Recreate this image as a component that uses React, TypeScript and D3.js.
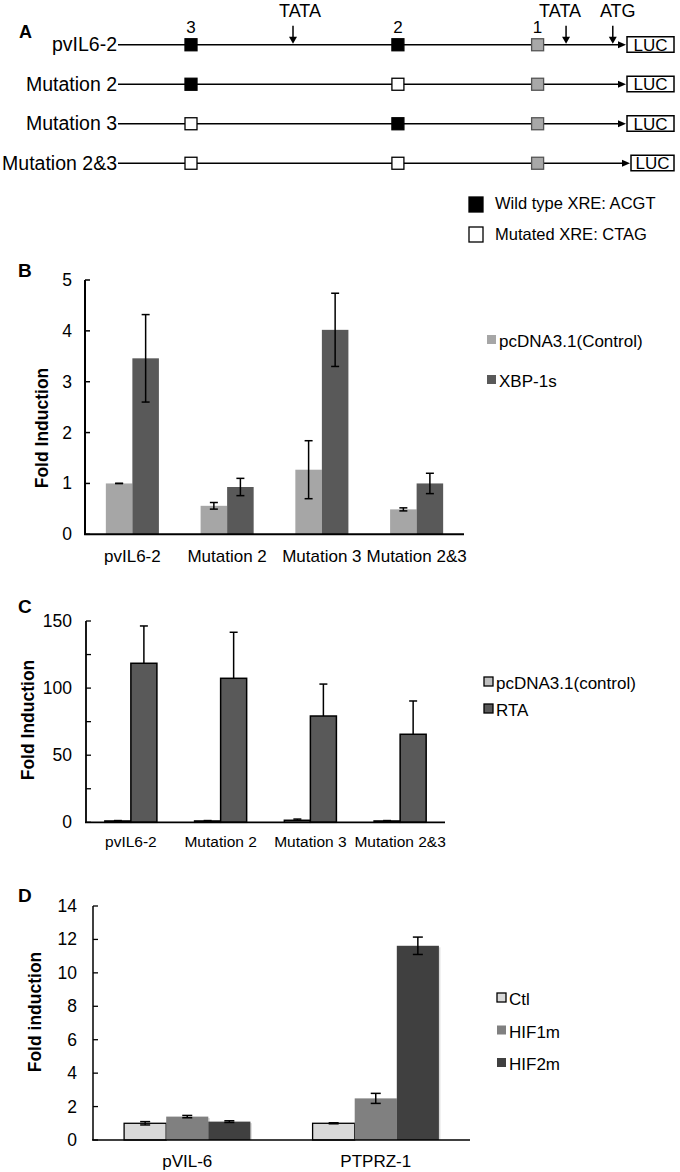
import React from "react";
import * as d3 from "d3";

// ---------- Panel A data ----------
const constructs = ["pvIL6-2", "Mutation 2", "Mutation 3", "Mutation 2&3"];
const siteNames = ["3", "2", "1"];
const sitePos = [0.1437, 0.551, 0.826]; // relative position along promoter
// state per construct per site: "wt" | "mut" | "core"
const siteStates = [
  ["wt", "wt", "core"],
  ["wt", "mut", "core"],
  ["mut", "wt", "core"],
  ["mut", "mut", "core"],
];
const markerNames = ["TATA", "TATA", "ATG"];
const markerPos = [0.3445, 0.882, 0.974];
const legendA = ["Wild type XRE: ACGT", "Mutated XRE: CTAG"];

// ---------- Panel B data ----------
const catsB = ["pvIL6-2", "Mutation 2", "Mutation 3", "Mutation 2&3"];
const seriesB = ["pcDNA3.1(Control)", "XBP-1s"];
const controlB = [1.0, 0.56, 1.27, 0.49];
const controlErrB = [0.0, 0.065, 0.57, 0.03];
const xbpB = [3.46, 0.93, 4.02, 1.0];
const xbpErrB = [0.86, 0.17, 0.72, 0.2];
const ticksB = [0, 1, 2, 3, 4, 5];

// ---------- Panel C data ----------
const catsC = ["pvIL6-2", "Mutation 2", "Mutation 3", "Mutation 2&3"];
const seriesC = ["pcDNA3.1(control)", "RTA"];
const controlC = [1.0, 1.0, 1.5, 1.0];
const controlErrC = [0.3, 0.3, 0.9, 0.3];
const rtaC = [118.5, 107.3, 79.2, 65.6];
const rtaErrC = [27.8, 34.3, 23.8, 24.8];
const ticksC = [0, 50, 100, 150];
const minorTicksC = [25, 75, 125];

// ---------- Panel D data ----------
const catsD = ["pVIL-6", "PTPRZ-1"];
const seriesD = ["Ctl", "HIF1m", "HIF2m"];
const ctlD = [1.0, 1.0];
const ctlErrD = [0.1, 0.03];
const hif1D = [1.4, 2.49];
const hif1ErrD = [0.07, 0.3];
const hif2D = [1.1, 11.62];
const hif2ErrD = [0.05, 0.52];
const ticksD = [0, 2, 4, 6, 8, 10, 12, 14];

const FONT = "'Liberation Sans', Arial, Helvetica, sans-serif";

function PanelA() {
  const x = d3.scaleLinear().domain([0, 1]).range([118, 626]);
  const y = d3.scaleBand<string>().domain(constructs).range([25, 183]).padding(0);
  const rowY = (c: string) => (y(c) as number) + y.bandwidth() / 2;
  const fillFor = (s: string) => (s === "wt" ? "#000" : s === "mut" ? "#fff" : "#a8a8a8");
  const strokeFor = (s: string) => (s === "core" ? "#555" : "#000");
  const sq = 12;
  const y0 = rowY(constructs[0]);
  return (
    <g>
      <text x={19} y={38} fontSize={18} fontWeight="bold">A</text>
      {siteNames.map((n, i) => (
        <text key={"sn" + i} x={x(sitePos[i])} y={33} fontSize={17} textAnchor="middle">{n}</text>
      ))}
      {markerNames.map((n, i) => {
        const mx = x(markerPos[i]);
        const tx = i === 0 ? mx + 7 : i === 1 ? mx - 6 : mx + 5;
        return (
          <g key={"mk" + i}>
            <text x={tx} y={17} fontSize={18} textAnchor="middle">{n}</text>
            <line x1={mx} x2={mx} y1={y0 - 19} y2={y0 - 6} stroke="#000" strokeWidth={1.5} />
            <path d={`M${mx - 4},${y0 - 8} L${mx + 4},${y0 - 8} L${mx},${y0 - 1} Z`} fill="#000" />
          </g>
        );
      })}
      {constructs.map((c, r) => {
        const cy = rowY(c);
        const shift = r === 3 ? 4 : 0;
        const end = x(1) + shift;
        return (
          <g key={c}>
            <text x={117} y={cy + 6.5} fontSize={19.5} textAnchor="end">{c}</text>
            <line x1={118} x2={end - 7} y1={cy} y2={cy} stroke="#000" strokeWidth={1.5} />
            <path d={`M${end - 8},${cy - 3.5} L${end},${cy} L${end - 8},${cy + 3.5} Z`} fill="#000" />
            <rect x={end + 1} y={cy - 8} width={47 - shift} height={15.5} fill="#fff" stroke="#000" strokeWidth={1.5} />
            <text x={end + 1 + (47 - shift) / 2} y={cy + 6} fontSize={17} textAnchor="middle">LUC</text>
            {siteStates[r].map((s, i) => (
              <rect key={i} x={x(sitePos[i]) - sq / 2} y={cy - sq / 2} width={sq} height={sq}
                fill={fillFor(s)} stroke={strokeFor(s)} strokeWidth={1.3} />
            ))}
          </g>
        );
      })}
      {legendA.map((t, i) => (
        <g key={t}>
          <rect x={469} y={197 + i * 30} width={14} height={15} fill={i === 0 ? "#000" : "#fff"} stroke="#000" strokeWidth={1.3} />
          <text x={495} y={209 + i * 30.5} fontSize={16.5}>{t}</text>
        </g>
      ))}
    </g>
  );
}

function ErrorBar({ cx, yTop, yBot, cap, up }: { cx: number; yTop: number; yBot: number; cap: number; up?: boolean }) {
  return (
    <g stroke="#000" strokeWidth={1.5}>
      <line x1={cx} x2={cx} y1={yTop} y2={yBot} />
      <line x1={cx - cap / 2} x2={cx + cap / 2} y1={yTop} y2={yTop} />
      {!up && <line x1={cx - cap / 2} x2={cx + cap / 2} y1={yBot} y2={yBot} />}
    </g>
  );
}

function PanelB() {
  const x = d3.scaleBand<string>().domain(catsB).range([85, 464]).paddingInner(0.44).paddingOuter(0.22);
  const xs = d3.scaleBand<string>().domain(seriesB).range([0, x.bandwidth()]);
  const y = d3.scaleLinear().domain([0, 5]).range([534.3, 280]);
  const vals = [controlB, xbpB];
  const errs = [controlErrB, xbpErrB];
  const colors = ["#a6a6a6", "#595959"];
  return (
    <g>
      <text x={18} y={277} fontSize={19} fontWeight="bold">B</text>
      {catsB.map((c, i) =>
        seriesB.map((s, j) => {
          const bx = (x(c) as number) + (xs(s) as number);
          const v = vals[j][i];
          return (
            <g key={c + s}>
              <rect x={bx} y={y(v)} width={xs.bandwidth()} height={y(0) - y(v)} fill={colors[j]} />
              <ErrorBar cx={bx + xs.bandwidth() / 2} yTop={y(v + errs[j][i])} yBot={y(v - errs[j][i])} cap={8} />
            </g>
          );
        })
      )}
      <line x1={85} x2={85} y1={y(5)} y2={y(0)} stroke="#000" strokeWidth={2} />
      <line x1={84} x2={464} y1={y(0)} y2={y(0)} stroke="#000" strokeWidth={2} />
      {ticksB.map((t) => (
        <g key={t}>
          <line x1={85} x2={90} y1={y(t)} y2={y(t)} stroke="#000" strokeWidth={1.5} />
          <text x={72} y={y(t) + 6} fontSize={17.5} textAnchor="end">{t}</text>
        </g>
      ))}
      {catsB.map((c) => (
        <text key={c} x={(x(c) as number) + x.bandwidth() / 2} y={562} fontSize={17} textAnchor="middle">{c}</text>
      ))}
      <text transform={`translate(48,428) rotate(-90)`} fontSize={17.5} fontWeight="bold" textAnchor="middle">Fold Induction</text>
      {seriesB.map((s, j) => (
        <g key={s}>
          <rect x={487} y={335 + j * 40} width={9} height={9} fill={colors[j]} />
          <text x={499} y={347 + j * 40} fontSize={17}>{s}</text>
        </g>
      ))}
    </g>
  );
}

function PanelC() {
  const x = d3.scaleBand<string>().domain(catsC).range([86, 445]).paddingInner(0.42).paddingOuter(0.21);
  const xs = d3.scaleBand<string>().domain(seriesC).range([0, x.bandwidth()]);
  const y = d3.scaleLinear().domain([0, 150]).range([822.3, 621]);
  const vals = [controlC, rtaC];
  const errs = [controlErrC, rtaErrC];
  const colors = ["#bfbfbf", "#595959"];
  return (
    <g>
      <text x={18} y={613} fontSize={19} fontWeight="bold">C</text>
      {catsC.map((c, i) =>
        seriesC.map((s, j) => {
          const bx = (x(c) as number) + (xs(s) as number);
          const v = vals[j][i];
          return (
            <g key={c + s}>
              <rect x={bx} y={y(v)} width={xs.bandwidth()} height={y(0) - y(v)} fill={colors[j]} stroke="#000" strokeWidth={1.5} />
              <ErrorBar cx={bx + xs.bandwidth() / 2} yTop={y(v + errs[j][i])} yBot={y(v)} cap={8} up />
            </g>
          );
        })
      )}
      <line x1={86} x2={86} y1={y(150)} y2={y(0)} stroke="#000" strokeWidth={1.8} />
      <line x1={85} x2={445} y1={y(0)} y2={y(0)} stroke="#000" strokeWidth={1.8} />
      {ticksC.concat(minorTicksC).map((t) => (
        <line key={"t" + t} x1={86} x2={91} y1={y(t)} y2={y(t)} stroke="#000" strokeWidth={1.3} />
      ))}
      {ticksC.map((t) => (
        <text key={t} x={72} y={y(t) + 6} fontSize={17.5} textAnchor="end">{t}</text>
      ))}
      {catsC.map((c) => (
        <text key={c} x={(x(c) as number) + x.bandwidth() / 2} y={847} fontSize={15.5} textAnchor="middle">{c}</text>
      ))}
      <text transform={`translate(34,720) rotate(-90)`} fontSize={17.5} fontWeight="bold" textAnchor="middle">Fold Induction</text>
      {seriesC.map((s, j) => (
        <g key={s}>
          <rect x={484} y={677 + j * 27} width={9} height={9} fill={colors[j]} stroke="#000" strokeWidth={1.3} />
          <text x={496} y={689 + j * 27} fontSize={17}>{s}</text>
        </g>
      ))}
    </g>
  );
}

function PanelD() {
  const x = d3.scaleBand<string>().domain(catsD).range([93, 470]).paddingInner(0.33).paddingOuter(0.165);
  const xs = d3.scaleBand<string>().domain(seriesD).range([0, x.bandwidth()]);
  const y = d3.scaleLinear().domain([0, 14]).range([1140, 906]);
  const vals = [ctlD, hif1D, hif2D];
  const errs = [ctlErrD, hif1ErrD, hif2ErrD];
  const colors = ["#d9d9d9", "#808080", "#404040"];
  return (
    <g>
      <text x={18} y={902} fontSize={19} fontWeight="bold">D</text>
      {catsD.map((c, i) =>
        seriesD.map((s, j) => {
          const bx = (x(c) as number) + (xs(s) as number);
          const v = vals[j][i];
          return (
            <g key={c + s}>
              <rect x={bx + 1.5} y={y(v) + 1.5} width={xs.bandwidth()} height={y(0) - y(v) - 1.5} fill="#dcdcdc" />
              <rect x={bx} y={y(v)} width={xs.bandwidth()} height={y(0) - y(v)} fill={colors[j]}
                stroke={j === 0 ? "#000" : "none"} strokeWidth={1.3} />
              <ErrorBar cx={bx + xs.bandwidth() / 2} yTop={y(v + errs[j][i])} yBot={y(v - errs[j][i])} cap={10} />
            </g>
          );
        })
      )}
      <line x1={93} x2={93} y1={y(14)} y2={y(0)} stroke="#000" strokeWidth={1.5} />
      <line x1={92} x2={470} y1={y(0)} y2={y(0)} stroke="#000" strokeWidth={1.5} />
      {ticksD.map((t) => (
        <g key={t}>
          <line x1={93} x2={98} y1={y(t)} y2={y(t)} stroke="#000" strokeWidth={1.3} />
          <text x={77} y={y(t) + 6} fontSize={17.5} textAnchor="end">{t}</text>
        </g>
      ))}
      {catsD.map((c) => (
        <text key={c} x={(x(c) as number) + x.bandwidth() / 2} y={1167} fontSize={17} textAnchor="middle">{c}</text>
      ))}
      <text transform={`translate(41,1012) rotate(-90)`} fontSize={17.5} fontWeight="bold" textAnchor="middle">Fold induction</text>
      {seriesD.map((s, j) => (
        <g key={s}>
          <rect x={497} y={993 + j * 32.5} width={9} height={9} fill={colors[j]} stroke={j === 0 ? "#000" : "none"} strokeWidth={1.3} />
          <text x={509} y={1005 + j * 32.5} fontSize={17}>{s}</text>
        </g>
      ))}
    </g>
  );
}

export default function App() {
  return (
    <svg width={680} height={1172} viewBox="0 0 680 1172"
      style={{ position: "absolute", left: 0, top: 0, background: "#fff", fontFamily: FONT }}>
      <rect width={680} height={1172} fill="#fff" />
      <g fontFamily={FONT} fill="#000">
        <PanelA />
        <PanelB />
        <PanelC />
        <PanelD />
      </g>
    </svg>
  );
}
